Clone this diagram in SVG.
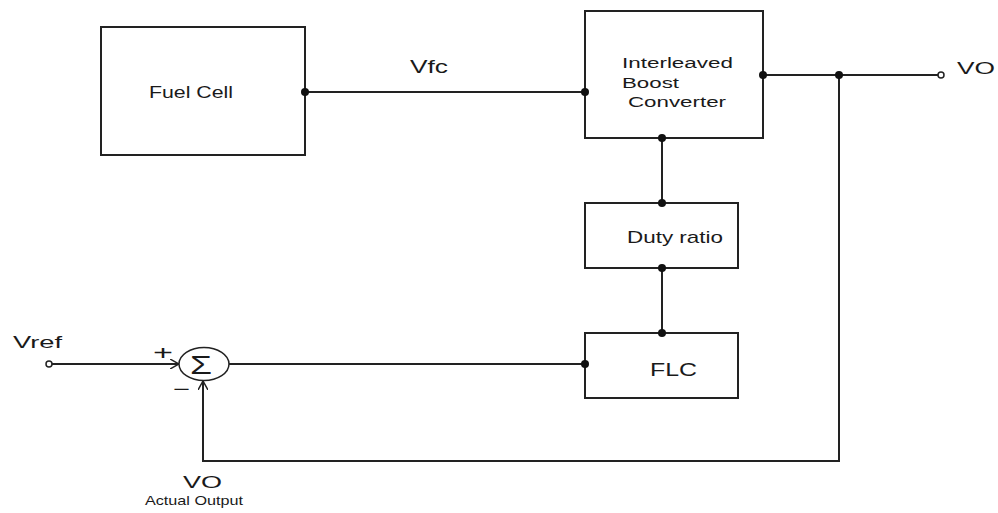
<svg xmlns="http://www.w3.org/2000/svg" width="998" height="513" viewBox="0 0 998 513">
<defs>
<style>
.box{fill:#fff;stroke:#222;stroke-width:2}
.wire{fill:none;stroke:#222;stroke-width:2}
.dot{fill:#111}
.open{fill:#fff;stroke:#222;stroke-width:1.5}
.t{font-family:"Liberation Sans",Arial,sans-serif;fill:#1a1a1a}
</style>
<marker id="chev" viewBox="0 0 10 10" refX="9" refY="5" markerWidth="10" markerHeight="10" markerUnits="userSpaceOnUse" orient="auto">
<path d="M0,0 L9,5 L0,10" fill="none" stroke="#222" stroke-width="1.5"/>
</marker>
</defs>
<rect width="998" height="513" fill="#fff"/>
<g id="connectors">
<path class="wire" d="M305,92 H585"/>
<path class="wire" d="M763,75 H938"/>
<path class="wire" d="M662,138 V203"/>
<path class="wire" d="M662,268 V333"/>
<path class="wire" d="M52,364 H179" marker-end="url(#chev)"/>
<path class="wire" d="M229,364 H585"/>
<path class="wire" d="M839,75 V461 H203 V381" marker-end="url(#chev)"/>
<circle class="open" cx="941" cy="75" r="3"/>
<circle class="open" cx="49" cy="364" r="3"/>
<circle class="dot" cx="839" cy="75" r="4"/>
</g>
<g id="fuelcell">
<rect class="box" x="101" y="27" width="204" height="128"/>
<text class="t" x="149" y="98" font-size="16" textLength="84" lengthAdjust="spacingAndGlyphs">Fuel Cell</text>
<circle class="dot" cx="305" cy="92" r="4"/>
</g>
<g id="vfc">
<text class="t" x="410" y="73" font-size="19" textLength="38" lengthAdjust="spacingAndGlyphs">Vfc</text>
</g>
<g id="ibc">
<rect class="box" x="585" y="11" width="178" height="127"/>
<text class="t" x="622" y="68" font-size="14" textLength="111" lengthAdjust="spacingAndGlyphs">Interleaved</text>
<text class="t" x="622" y="88" font-size="14" textLength="57" lengthAdjust="spacingAndGlyphs">Boost</text>
<text class="t" x="628" y="107" font-size="14" textLength="98" lengthAdjust="spacingAndGlyphs">Converter</text>
<circle class="dot" cx="585" cy="92" r="4"/>
<circle class="dot" cx="763" cy="75" r="4"/>
<circle class="dot" cx="662" cy="138" r="4"/>
</g>
<g id="vo-out">
<text class="t" x="957" y="74" font-size="17" textLength="38" lengthAdjust="spacingAndGlyphs">VO</text>
</g>
<g id="duty">
<rect class="box" x="585" y="203" width="153" height="65"/>
<text class="t" x="627" y="243" font-size="17" textLength="96" lengthAdjust="spacingAndGlyphs">Duty ratio</text>
<circle class="dot" cx="662" cy="203" r="4"/>
<circle class="dot" cx="662" cy="268" r="4"/>
</g>
<g id="flc">
<rect class="box" x="585" y="333" width="153" height="65"/>
<text class="t" x="650" y="376" font-size="18" textLength="47" lengthAdjust="spacingAndGlyphs">FLC</text>
<circle class="dot" cx="662" cy="333" r="4"/>
<circle class="dot" cx="585" cy="364" r="4"/>
</g>
<g id="sum">
<ellipse cx="204" cy="364" rx="25" ry="16.5" fill="#fff" stroke="#222" stroke-width="1.5"/>
<text class="t" x="201" y="374" font-size="26" text-anchor="middle" textLength="22" lengthAdjust="spacingAndGlyphs">Σ</text>
<text class="t" x="153" y="360" font-size="20" textLength="20" lengthAdjust="spacingAndGlyphs">+</text>
<text class="t" x="173" y="396" font-size="20" textLength="17" lengthAdjust="spacingAndGlyphs">−</text>
</g>
<g id="vref">
<text class="t" x="13" y="348" font-size="17" textLength="49" lengthAdjust="spacingAndGlyphs">Vref</text>
</g>
<g id="vo-actual">
<text class="t" x="183" y="488" font-size="17" textLength="39" lengthAdjust="spacingAndGlyphs">VO</text>
<text class="t" x="145" y="505" font-size="13" textLength="98" lengthAdjust="spacingAndGlyphs">Actual Output</text>
</g>
</svg>
